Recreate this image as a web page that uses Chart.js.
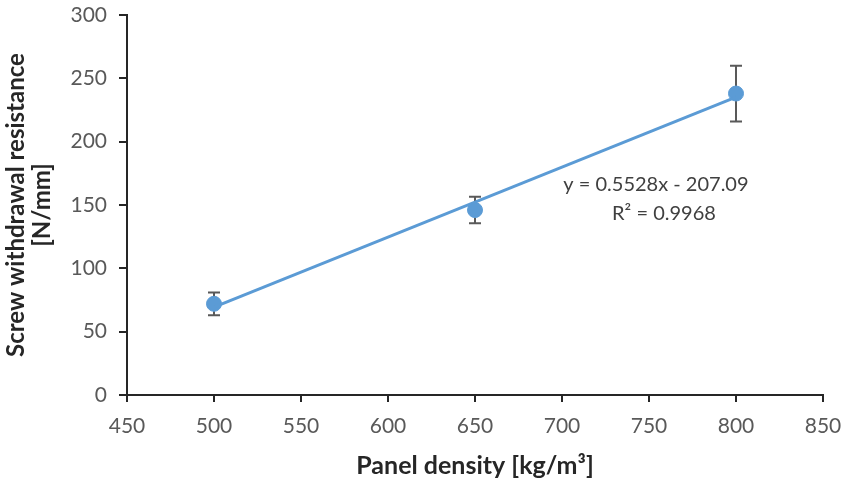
<!DOCTYPE html>
<html lang="en">
<head>
<meta charset="UTF-8">
<title>Screw withdrawal resistance vs panel density</title>
<script src="https://cdn.jsdelivr.net/npm/chart.js@4.4.0/dist/chart.umd.min.js"></script>
<style>
  html, body { margin: 0; padding: 0; background: #ffffff; }
  #wrap { width: 842px; height: 480px; position: relative; }
</style>
</head>
<body>
<div id="wrap"><canvas id="chart"></canvas></div>
<script>
// measured points (mean +/- std dev)
var density = [500, 650, 800];
var resistance = [72, 146, 238];
var errors = [9, 10.5, 22];
// linear trendline end points
var trendX = [500, 800];
var trendY = [69.3, 235.1];
var equation = ['y = 0.5528x - 207.09', 'R\u00B2 = 0.9968'];

var blue = '#5B9BD5';
var axisColor = '#262626';
var fontFamily = 'Lato, "Open Sans", sans-serif';

var errorBars = {
  id: 'errorBars',
  beforeDatasetsDraw: function(chart) {
    var xs = chart.scales.x, ys = chart.scales.y, c = chart.ctx;
    c.save();
    c.strokeStyle = '#595959';
    c.lineWidth = 2;
    for (var i = 0; i < density.length; i++) {
      var px = xs.getPixelForValue(density[i]);
      var top = ys.getPixelForValue(resistance[i] + errors[i]);
      var bot = ys.getPixelForValue(resistance[i] - errors[i]);
      c.beginPath();
      c.moveTo(px, top); c.lineTo(px, bot);
      c.moveTo(px - 6, top); c.lineTo(px + 6, top);
      c.moveTo(px - 6, bot); c.lineTo(px + 6, bot);
      c.stroke();
    }
    c.restore();
  }
};

var eqLabel = {
  id: 'eqLabel',
  afterDatasetsDraw: function(chart) {
    var xs = chart.scales.x, ys = chart.scales.y, c = chart.ctx;
    var px = xs.getPixelForValue(754);
    var py = ys.getPixelForValue(166);
    c.save();
    c.fillStyle = '#404040';
    c.font = '20px ' + fontFamily;
    c.textAlign = 'center';
    c.textBaseline = 'middle';
    c.fillText(equation[0], px, py);
    c.fillText(equation[1], px + 8, py + 29);
    c.restore();
  }
};

new Chart(document.getElementById('chart'), {
  type: 'scatter',
  data: {
    datasets: [{
      label: 'Trend',
      type: 'line',
      data: trendX.map(function(x, i) { return { x: x, y: trendY[i] }; }),
      borderColor: blue,
      borderWidth: 3,
      pointRadius: 0,
      fill: false
    }, {
      label: 'Screw withdrawal resistance',
      data: density.map(function(x, i) { return { x: x, y: resistance[i] }; }),
      backgroundColor: blue,
      borderColor: blue,
      pointRadius: 7.5,
      pointHoverRadius: 7.5
    }]
  },
  options: {
    responsive: true,
    maintainAspectRatio: false,
    animation: false,
    layout: { padding: { top: 15, right: 19, bottom: 0, left: 0 } },
    plugins: {
      legend: { display: false },
      tooltip: { enabled: false }
    },
    scales: {
      x: {
        type: 'linear',
        min: 450, max: 850,
        afterFit: function(s) { s.height = 85; s.paddingLeft = 0; s.paddingRight = 0; },
        ticks: { stepSize: 50, color: '#595959', padding: 12, font: { family: fontFamily, size: 21 } },
        grid: { drawOnChartArea: false, drawTicks: true, tickLength: 7, color: axisColor, lineWidth: 2 },
        border: { display: true, color: axisColor, width: 2 },
        title: {
          display: true,
          text: 'Panel density [kg/m\u00B3]',
          color: axisColor,
          padding: { top: 0, bottom: 0 },
          font: { family: fontFamily, size: 25, weight: 'bold', lineHeight: 1.15 }
        }
      },
      y: {
        min: 0, max: 300,
        afterFit: function(s) { s.width = 127; s.paddingTop = 0; s.paddingBottom = 0; },
        ticks: { stepSize: 50, color: '#595959', padding: 12, font: { family: fontFamily, size: 21 } },
        grid: { drawOnChartArea: false, drawTicks: true, tickLength: 8, color: axisColor, lineWidth: 2 },
        border: { display: true, color: axisColor, width: 2 },
        title: {
          display: true,
          text: ['Screw withdrawal resistance', '[N/mm]'],
          color: axisColor,
          padding: { top: 4, bottom: 0 },
          font: { family: fontFamily, size: 24, weight: 'bold', lineHeight: 1.05 }
        }
      }
    }
  },
  plugins: [errorBars, eqLabel]
});
</script>
</body>
</html>
